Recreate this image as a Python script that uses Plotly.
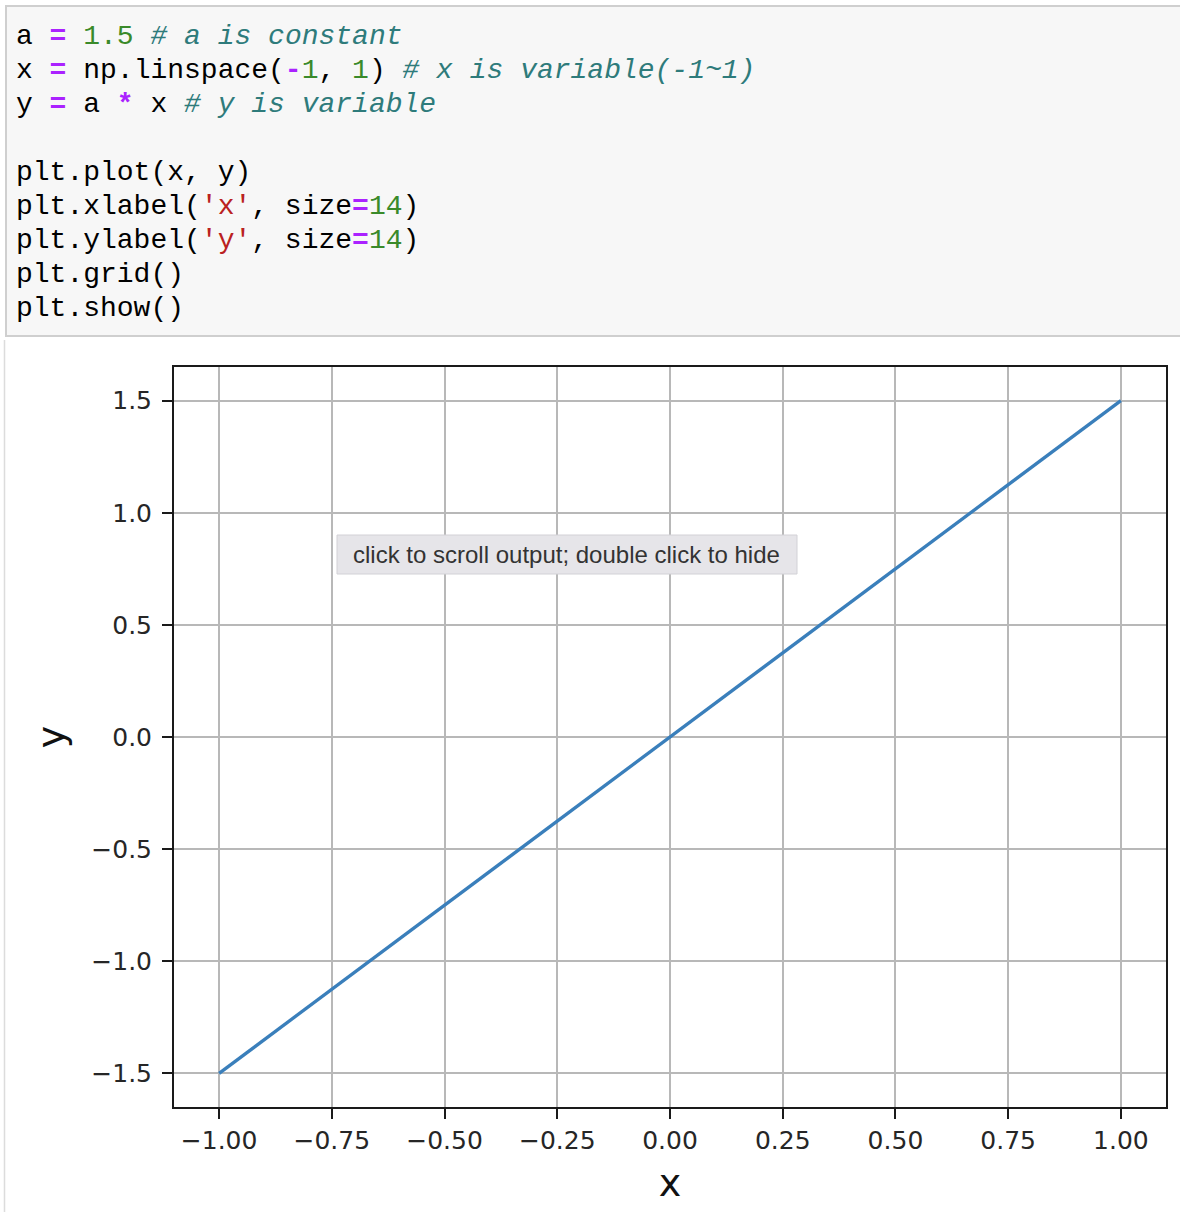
import plotly.graph_objects as go

# ---- data ----
a_const = 1.5
x_values = [-1.0, 1.0]
y_values = [-1.5, 1.5]
x_ticks = [-1.0, -0.75, -0.5, -0.25, 0.0, 0.25, 0.5, 0.75, 1.0]
y_ticks = [-1.5, -1.0, -0.5, 0.0, 0.5, 1.0, 1.5]

code_lines = [
    '<span style="color:#000">a </span><b><span style="color:#aa22ff">=</span></b> <span style="color:#3a8a2a">1.5</span> <i><span style="color:#2e7b7b"># a is constant</span></i>',
    '<span style="color:#000">x </span><b><span style="color:#aa22ff">=</span></b> np.linspace(<b><span style="color:#aa22ff">-</span></b><span style="color:#3a8a2a">1</span>, <span style="color:#3a8a2a">1</span>) <i><span style="color:#2e7b7b"># x is variable(-1~1)</span></i>',
    '<span style="color:#000">y </span><b><span style="color:#aa22ff">=</span></b> a <b><span style="color:#aa22ff">*</span></b> x <i><span style="color:#2e7b7b"># y is variable</span></i>',
    '',
    'plt.plot(x, y)',
    'plt.xlabel(<span style="color:#ba2121">\'x\'</span>, size<b><span style="color:#aa22ff">=</span></b><span style="color:#3a8a2a">14</span>)',
    'plt.ylabel(<span style="color:#ba2121">\'y\'</span>, size<b><span style="color:#aa22ff">=</span></b><span style="color:#3a8a2a">14</span>)',
    'plt.grid()',
    'plt.show()',
]

W_FIG, H_FIG = 1180, 1212
L, R, T, B = 174, 1166, 367, 1107
PW, PH = R - L, B - T


def fx(px):
    return (px - L) / PW


def fy(py):
    return (B - py) / PH


fig = go.Figure()
fig.add_trace(go.Scatter(
    x=x_values, y=y_values, mode="lines",
    line=dict(color="#3a7fbb", width=3.3),
    showlegend=False, hoverinfo="skip",
))

tick_font = dict(family="DejaVu Sans", size=25, color="#262626")

fig.update_layout(
    width=W_FIG, height=H_FIG,
    margin=dict(l=L, r=W_FIG - R, t=T, b=H_FIG - B, pad=0),
    paper_bgcolor="white", plot_bgcolor="white",
    xaxis=dict(
        range=[-1.1, 1.1], tickvals=x_ticks, tickformat=".2f",
        showgrid=True, gridcolor="#b8b8b8", gridwidth=1.6,
        showline=True, linecolor="#1a1a1a", linewidth=2, mirror=True,
        ticks="outside", ticklen=10, tickwidth=2, tickcolor="#1a1a1a",
        tickfont=tick_font, zeroline=False,
        title=dict(text="x", font=dict(family="DejaVu Sans", size=38, color="#111"), standoff=15),
    ),
    yaxis=dict(
        range=[-1.65, 1.65], tickvals=y_ticks, tickformat=".1f",
        showgrid=True, gridcolor="#b8b8b8", gridwidth=1.6,
        showline=True, linecolor="#1a1a1a", linewidth=2, mirror=True,
        ticks="outside", ticklen=10, tickwidth=2, tickcolor="#1a1a1a",
        tickfont=tick_font, zeroline=False, ticklabelstandoff=5,
        title=dict(text="y", font=dict(family="DejaVu Sans", size=38, color="#111"), standoff=15),
    ),
)

shapes = []
# code cell box
shapes.append(dict(type="rect", xref="paper", yref="paper",
                   x0=fx(6), x1=fx(1190), y0=fy(6), y1=fy(336),
                   fillcolor="#f7f7f7", line=dict(color="#cfcfcf", width=2), layer="below"))
# output area left border
shapes.append(dict(type="line", xref="paper", yref="paper",
                   x0=fx(4.5), x1=fx(4.5), y0=fy(340), y1=fy(1215),
                   line=dict(color="#dcdcdc", width=1.5)))
# tooltip box
shapes.append(dict(type="rect", xref="paper", yref="paper",
                   x0=fx(337), x1=fx(797), y0=fy(535), y1=fy(574),
                   fillcolor="#e6e5e9", line=dict(color="#d2d1d6", width=1), layer="above"))
fig.update_layout(shapes=shapes)

annotations = []
line_y0, line_dy = 36, 34.1
for i, txt in enumerate(code_lines):
    if not txt:
        continue
    annotations.append(dict(
        xref="paper", yref="paper", x=fx(14), y=fy(line_y0 + i * line_dy),
        xanchor="left", yanchor="middle", showarrow=False, align="left",
        text=txt, font=dict(family="Liberation Mono", size=28, color="#000"),
    ))
annotations.append(dict(
    xref="paper", yref="paper", x=fx(566), y=fy(554.5),
    xanchor="center", yanchor="middle", showarrow=False,
    text="click to scroll output; double click to hide",
    font=dict(family="Liberation Sans", size=24, color="#333333"),
))
fig.update_layout(annotations=annotations)

fig.write_html("out.html", config={"displayModeBar": False},
               post_script="document.body.style.margin='0';document.body.style.padding='0';")
